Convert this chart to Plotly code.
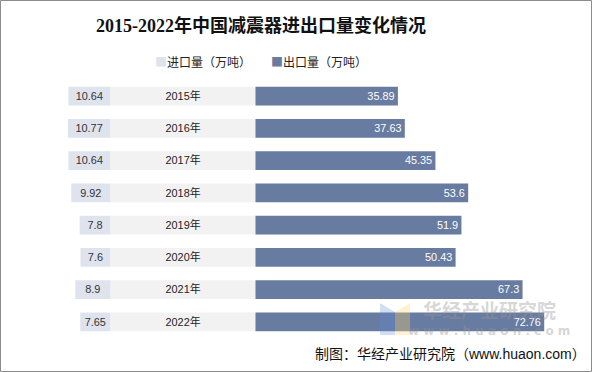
import plotly.graph_objects as go

years = ["2015年", "2016年", "2017年", "2018年", "2019年", "2020年", "2021年", "2022年"]
imports = [10.64, 10.77, 10.64, 9.92, 7.8, 7.6, 8.9, 7.65]
exports = [35.89, 37.63, 45.35, 53.6, 51.9, 50.43, 67.3, 72.76]
band = 36.5  # width of the label band between the two series

IMP_COLOR = "#DEE3ED"
EXP_COLOR = "#687BA0"
BAND_COLOR = "#F2F2F2"
IMP_NAME = "进口量（万吨）"
EXP_NAME = "出口量（万吨）"

W, H = 593, 372
L, R, T, B = 63, 26, 80, 34
xr = [-12, 115]
pw = W - L - R
ph = H - T - B


def px(x):
    return (x - L) / pw


def py(y):
    return 1 - (y - T) / ph


fig = go.Figure()
fig.add_trace(go.Bar(
    y=years, x=[-v for v in imports], base=0, orientation="h",
    name=IMP_NAME, marker=dict(color=IMP_COLOR, line=dict(width=0)),
    text=[f"{v:g}" for v in imports], textposition="inside", insidetextanchor="middle",
    textangle=0, textfont=dict(family="Liberation Sans, Arial", size=12, color="#333333"),
    hoverinfo="skip"))
fig.add_trace(go.Bar(
    y=years, x=[band] * len(years), base=0, orientation="h",
    marker=dict(color=BAND_COLOR, line=dict(width=0)),
    text=years, textposition="inside", insidetextanchor="middle", textangle=0,
    textfont=dict(family="Liberation Sans, Noto Sans CJK SC", size=12, color="#222222"),
    hoverinfo="skip"))
fig.add_trace(go.Bar(
    y=years, x=exports, base=band, orientation="h",
    name=EXP_NAME, marker=dict(color=EXP_COLOR, line=dict(width=0)),
    text=[f"{v:g}" for v in exports], textposition="inside", insidetextanchor="end",
    textangle=0, textfont=dict(family="Liberation Sans, Arial", size=12, color="white"),
    hoverinfo="skip"))

fig.update_layout(
    width=W, height=H, margin=dict(l=L, r=R, t=T, b=B, autoexpand=False),
    barmode="overlay", bargap=0.42, showlegend=False,
    plot_bgcolor="white", paper_bgcolor="white",
    xaxis=dict(range=xr, visible=False, fixedrange=True),
    yaxis=dict(autorange="reversed", visible=False, fixedrange=True),
)

# title
fig.add_annotation(text="<b>2015-2022年中国减震器进出口量变化情况</b>", xref="paper", yref="paper",
                   x=px(261), y=py(25), xanchor="center", yanchor="middle", showarrow=False,
                   font=dict(family="Liberation Serif, Noto Sans CJK SC", size=18, color="#111111"))

# legend (built from trace names and colours)
for name, color, xs in [(IMP_NAME, IMP_COLOR, 153), (EXP_NAME, EXP_COLOR, 269)]:
    fig.add_annotation(text=f'<span style="color:{color}">■</span>{name}', xref="paper", yref="paper",
                       x=px(xs), y=py(61), xanchor="left", yanchor="middle", showarrow=False,
                       font=dict(family="Noto Sans CJK SC", size=12, color="#222222"))

# border around the whole picture
fig.add_shape(type="rect", xref="paper", yref="paper",
              x0=px(0.5), x1=px(W - 1.5), y0=py(H - 0.5), y1=py(0.5),
              line=dict(color="#8C8C8C", width=1))

# watermark logo
fig.add_shape(type="path", xref="paper", yref="paper", layer="above",
              path=f"M {px(380)},{py(303)} L {px(395)},{py(312)} L {px(395)},{py(335)} L {px(380)},{py(335)} Z",
              fillcolor="rgba(90,140,220,0.28)", line=dict(width=0))
fig.add_shape(type="path", xref="paper", yref="paper", layer="above",
              path=f"M {px(395)},{py(312)} L {px(410)},{py(303)} L {px(410)},{py(335)} L {px(395)},{py(335)} Z",
              fillcolor="rgba(255,215,110,0.32)", line=dict(width=0))

# watermark text
fig.add_annotation(text="<b>华经产业研究院</b>", xref="paper", yref="paper",
                   x=px(489), y=py(309), xanchor="center", yanchor="middle", showarrow=False,
                   font=dict(family="Noto Sans CJK SC", size=19, color="rgba(150,150,150,0.4)"))
fig.add_annotation(text="<b>w w w . h u a o n . c o m</b>", xref="paper", yref="paper",
                   x=px(489), y=py(331), xanchor="center", yanchor="middle", showarrow=False,
                   font=dict(family="DejaVu Sans", size=12, color="rgba(150,150,150,0.4)"))

# source note
fig.add_annotation(text="制图：华经产业研究院（www.huaon.com）", xref="paper", yref="paper",
                   x=px(588), xanchor="right", y=py(354), yanchor="middle",
                   showarrow=False,
                   font=dict(family="Liberation Sans, Noto Sans CJK SC", size=14, color="#111111"))

fig.write_html("out.html", config={"displayModeBar": False},
               post_script="document.body.style.margin='0';")
